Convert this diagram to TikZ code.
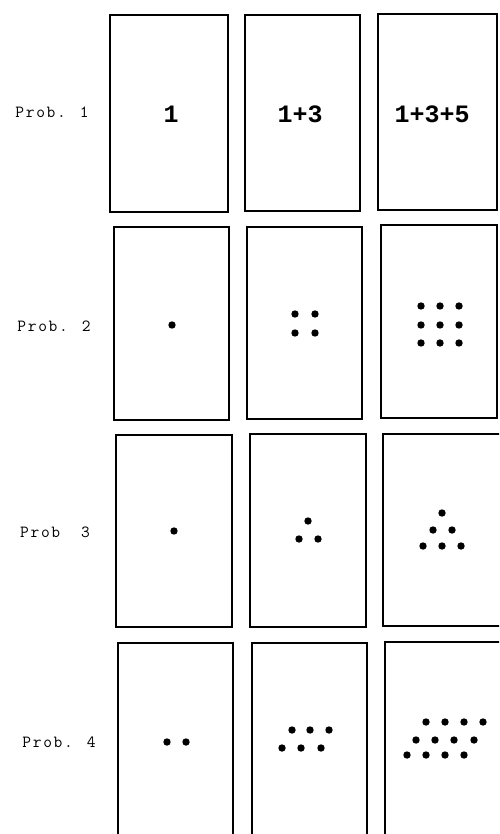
\documentclass[tikz,border=0pt]{standalone}
\usepackage{fontspec}
\newfontfamily\labfont[LetterSpace=10]{Latin Modern Mono}
\newfontfamily\numfont{Liberation Mono}
\begin{document}
\begin{tikzpicture}[x=1pt,y=-1pt,
  cardbox/.style={draw,line width=1.1pt,inner sep=0pt,outer sep=0pt},
  problabel/.style={font=\labfont\fontsize{17}{17}\selectfont,inner sep=0pt},
  numlabel/.style={font=\numfont\bfseries\fontsize{25}{25}\selectfont,inner sep=0pt},
  dot/.style={circle,fill=black,inner sep=0pt,minimum size=7.4pt}]
\useasboundingbox (0,0) rectangle (499,834);
\clip (0,0) rectangle (499,834);
% row 1
\node[cardbox,minimum width=118pt,minimum height=197pt] (b11) at (169,113.5) {};
\node[cardbox,minimum width=115pt,minimum height=196pt] (b12) at (302.5,113) {};
\node[cardbox,minimum width=119pt,minimum height=196pt] (b13) at (437.5,112) {};
\node[problabel] (p1) at (52,112) {Prob. 1};
\node[numlabel] (n11) at (171,114) {1};
\node[numlabel] (n12) at (300,114) {1+3};
\node[numlabel] (n13) at (432,114) {1+3+5};
% row 2
\node[cardbox,minimum width=115pt,minimum height=193pt] (b21) at (171.5,323.5) {};
\node[cardbox,minimum width=115pt,minimum height=192pt] (b22) at (304.5,323) {};
\node[cardbox,minimum width=116pt,minimum height=193pt] (b23) at (439,321.5) {};
\node[problabel] (p2) at (54,326) {Prob. 2};
\node[dot] (d21) at (172,325) {};
\node[dot] (d22a) at (295,314) {};
\node[dot] (d22b) at (315,314) {};
\node[dot] (d22c) at (295,333) {};
\node[dot] (d22d) at (315,333) {};
\foreach \i/\x in {1/421,2/440,3/459}{
  \foreach \j/\y in {1/306,2/325,3/343}{
    \node[dot] (d23\i\j) at (\x,\y) {};
  }
}
% row 3
\node[cardbox,minimum width=116pt,minimum height=192pt] (b31) at (174,531) {};
\node[cardbox,minimum width=116pt,minimum height=193pt] (b32) at (308,530.5) {};
\node[cardbox,minimum width=122pt,minimum height=192pt] (b33) at (444,530) {};
\node[problabel] (p3) at (55,532) {Prob\ \ 3};
\node[dot] (d31) at (174,531) {};
\node[dot] (d32a) at (308,521) {};
\node[dot] (d32b) at (299,539) {};
\node[dot] (d32c) at (318,539) {};
\node[dot] (d33a) at (442,513) {};
\node[dot] (d33b) at (433,530) {};
\node[dot] (d33c) at (452,530) {};
\node[dot] (d33d) at (423,546) {};
\node[dot] (d33e) at (442,546) {};
\node[dot] (d33f) at (461,546) {};
% row 4
\node[cardbox,minimum width=115pt,minimum height=217pt] (b41) at (175.5,751.5) {};
\node[cardbox,minimum width=115pt,minimum height=217pt] (b42) at (309.5,751.5) {};
\node[cardbox,minimum width=120pt,minimum height=218pt] (b43) at (445,751) {};
\node[problabel] (p4) at (59,742) {Prob. 4};
\node[dot] (d41a) at (167,742) {};
\node[dot] (d41b) at (186,742) {};
\foreach \x [count=\k] in {292,310,329}{\node[dot] (d42t\k) at (\x,730) {};}
\foreach \x [count=\k] in {282,301,321}{\node[dot] (d42b\k) at (\x,748) {};}
\foreach \x [count=\k] in {426,445,464,483}{\node[dot] (d43a\k) at (\x,722) {};}
\foreach \x [count=\k] in {416,435,454,474}{\node[dot] (d43b\k) at (\x,740) {};}
\foreach \x [count=\k] in {407,426,445,464}{\node[dot] (d43c\k) at (\x,755) {};}
\end{tikzpicture}
\end{document}
